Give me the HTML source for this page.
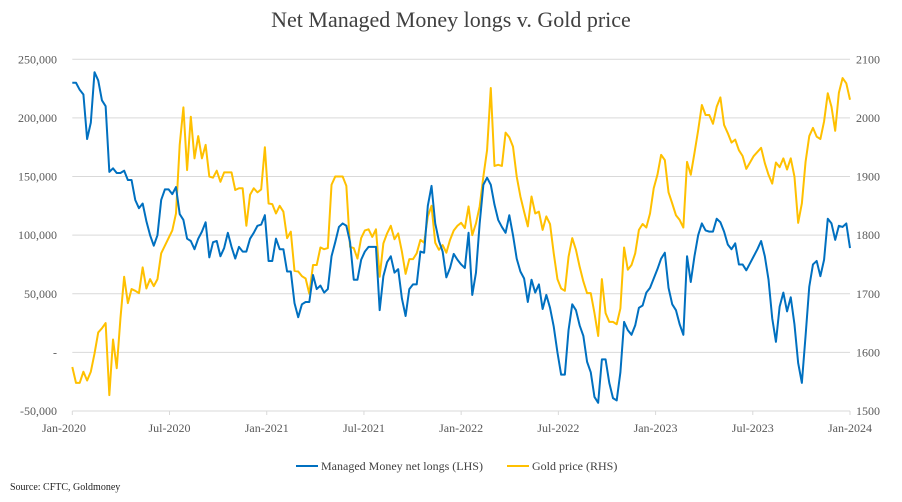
<!DOCTYPE html>
<html><head><meta charset="utf-8"><style>
body{margin:0;background:#fff;}
svg{display:block;font-family:"Liberation Serif",serif;}
</style></head><body>
<svg id="chart" width="902" height="502">
<text x="451" y="27" text-anchor="middle" font-size="22" fill="#404040">Net Managed Money longs v. Gold price</text>
<g id="grid"></g><g id="axes"></g><g id="series"></g>
<g>
<line x1="296" y1="466" x2="318" y2="466" stroke="#0070c0" stroke-width="2"/>
<text x="321" y="470" font-size="12" fill="#404040">Managed Money net longs (LHS)</text>
<line x1="507" y1="466" x2="529" y2="466" stroke="#ffc000" stroke-width="2"/>
<text x="532" y="470" font-size="12" fill="#404040">Gold price (RHS)</text>
</g>
<text x="10" y="490" font-size="10" fill="#222">Source: CFTC, Goldmoney</text>
</svg>
<script>
const netLongs=[230,230,224,220,182,196,239,232,215,210,154,157,153,153,155,147,147,130,123,127,112,100,91,100,130,139,139,135,141,118,113,97,95,88,97,103,111,81,94,95,82,89,102,90,80,90,86,86,97,102,108,109,117,78,78,97,88,88,69,69,42,30,41,43,43,66,54,57,51,54,82,
94,107,110,108,94,62,62,79,86,90,90,90,36,65,77,82,68,71,46,31,54,58,58,86,85,125,142,110,95,86,64,72,84,79,75,72,102,49,68,110,143,149,143,126,113,107,102,117,100,80,69,63,43,62,51,58,37,49,38,22,0,-19,-19,19,41,36,23,14,-8,-17,-38,-43,
-6,-6,-26,-39,-41,-17,26,19,15,23,38,40,51,55,63,71,80,85,55,41,36,24,15,
82,60,82,100,110,104,103,103,114,111,103,92,88,93,75,75,70,76,82,88,95,82,62,29,9,39,51,35,47,24,-9,-26,14,56,75,78,65,79,114,110,96,108,107,110,89];
const goldPrice=[1575,1548,1548,1567,1552,1567,1598,1634,1641,1650,1527,1622,1573,1658,1729,1684,1708,1705,1701,1745,1709,1725,1713,1725,1769,1782,1795,1808,1837,1954,2018,1911,2002,1931,1969,1931,1954,1900,1898,1910,1891,1907,1907,1907,1877,1880,1880,1816,1869,1880,1873,1878,1950,1854,1853,1837,1850,1840,1795,1806,1739,1738,1730,1726,1700,1749,1749,1779,1776,1778,1886,
1900,1900,1900,1884,1780,1778,1760,1795,1808,1810,1797,1810,1729,1786,1803,1816,1793,1803,1772,1734,1759,1759,1769,1792,1787,1832,1850,1787,1775,1783,1770,1792,1808,1816,1821,1812,1849,1800,1820,1849,1900,1945,2051,1918,1920,1918,1975,1967,1951,1900,1866,1840,1815,1866,1837,1840,1809,1832,1819,1769,1725,1709,1705,1763,1795,1775,1746,1721,1701,1701,1667,1628,
1725,1667,1652,1652,1648,1675,1779,1741,1749,1769,1809,1819,1813,1837,1880,1903,1937,1928,1873,1854,1834,1826,1813,
1925,1903,1940,1979,2022,2005,2005,1990,2019,2035,1988,1974,1958,1963,1945,1935,1913,1924,1935,1942,1949,1923,1903,1888,1924,1916,1931,1912,1931,1900,1821,1854,1925,1969,1983,1968,1964,1994,2042,2019,1978,2043,2068,2059,2031];
const leftTicks=[-50,0,50,100,150,200,250];
const leftLabels=["-50,000","-","50,000","100,000","150,000","200,000","250,000"];
const rightTicks=[1500,1600,1700,1800,1900,2000,2100];
const xLabels=["Jan-2020","Jul-2020","Jan-2021","Jul-2021","Jan-2022","Jul-2022","Jan-2023","Jul-2023","Jan-2024"];

const X0=72.3,X1=850,Y0=411,Y1=59.3;
const yL=v=>Y0-(v+50)/300*(Y0-Y1);
const yR=v=>Y0-(v-1500)/600*(Y0-Y1);
const xI=i=>X0+i*(X1-X0)/(netLongs.length-1);
const xT=k=>X0+k*(X1-X0)/(xLabels.length-1);
const NS="http://www.w3.org/2000/svg";
function mk(tag,attrs,parent,txt){const e=document.createElementNS(NS,tag);for(const k in attrs)e.setAttribute(k,attrs[k]);if(txt!==undefined)e.textContent=txt;parent.appendChild(e);return e;}
const grid=document.getElementById('grid'),axes=document.getElementById('axes'),ser=document.getElementById('series');
leftTicks.forEach((t,i)=>{
  const y=yL(t);
  const g=mk('line',{x1:X0,x2:X1,y1:y,y2:y,stroke:'#d9d9d9','stroke-width':1},grid);
  
  
  const l=mk('text',{x:57,y:y+4,'text-anchor':'end','font-size':12,fill:'#595959'},axes,leftLabels[i]);
  
  
});
rightTicks.forEach(t=>{
  const r=mk('text',{x:856,y:yR(t)+4,'font-size':12,fill:'#595959'},axes,String(t));
  
  
});
xLabels.forEach((s,k)=>{
  const x=xT(k);
  const tk=mk('line',{x1:x,x2:x,y1:Y0,y2:Y0+4,stroke:'#d9d9d9'},axes);
  
  
  const t=mk('text',{x:k===0?64:x,y:432,'text-anchor':'middle','font-size':12,fill:'#595959'},axes,s);
  
  
});
const gp=mk('polyline',{points:goldPrice.map((v,i)=>xI(i)+','+yR(v)).join(' '),fill:'none',stroke:'#ffc000','stroke-width':2,'stroke-linejoin':'round'},ser);


const bp=mk('polyline',{points:netLongs.map((v,i)=>xI(i)+','+yL(v)).join(' '),fill:'none',stroke:'#0070c0','stroke-width':2,'stroke-linejoin':'round'},ser);


</script>
</body></html>
